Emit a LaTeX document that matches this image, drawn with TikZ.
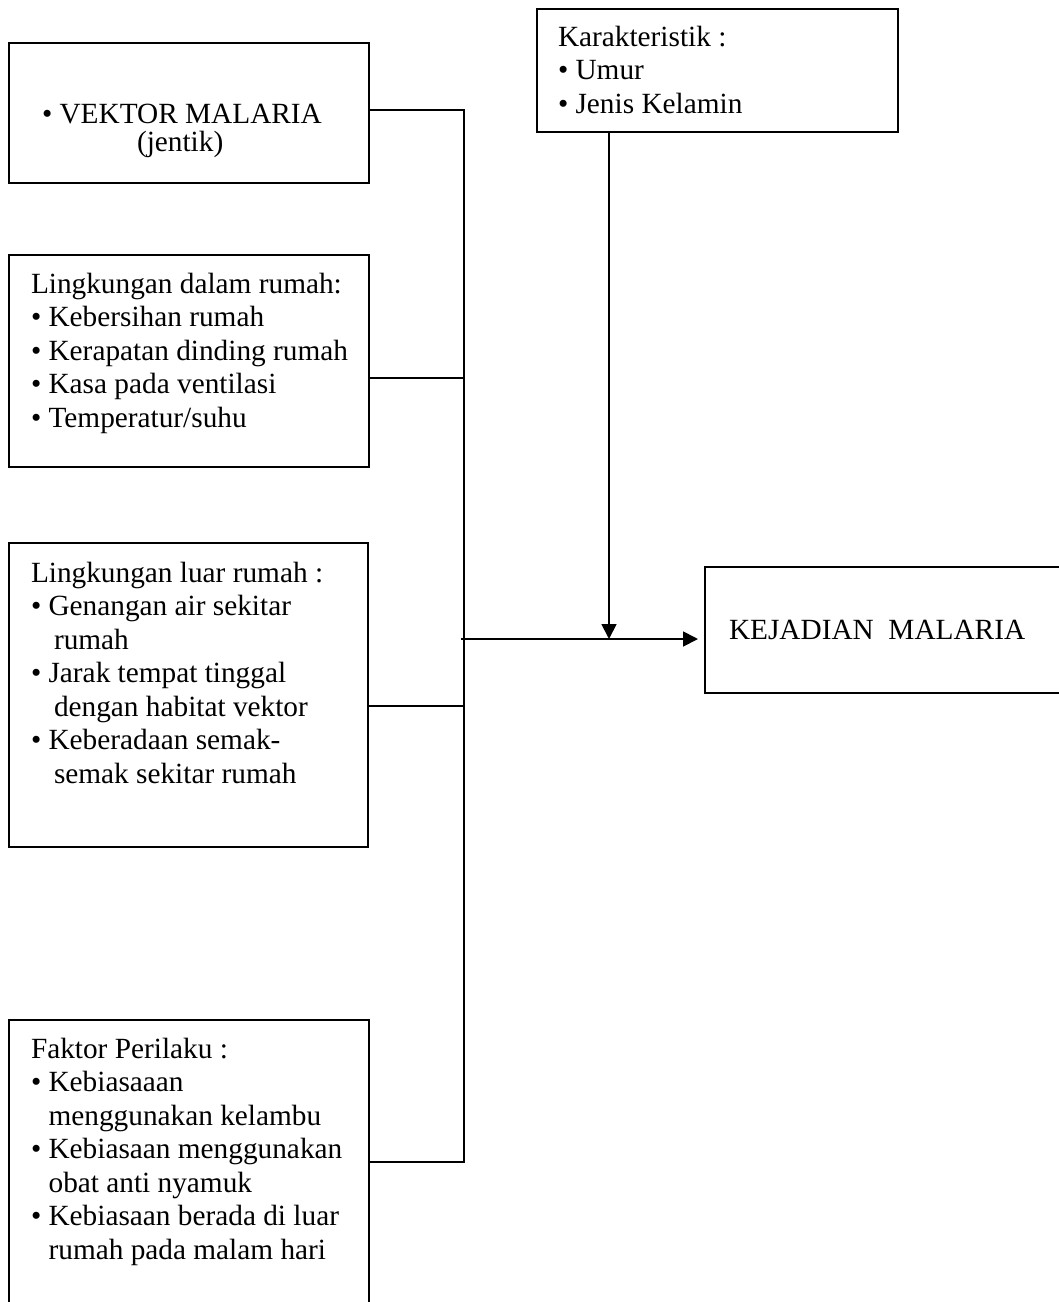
\documentclass[tikz,border=0pt]{standalone}
\usepackage{fontspec}
\setmainfont{Liberation Serif}
\usetikzlibrary{arrows.meta}
\begin{document}
\begin{tikzpicture}[x=1pt,y=-1pt,
  box/.style={draw,line width=1.8pt,rectangle,inner sep=0pt,outer sep=0pt,anchor=north west},
  txt/.style={inner sep=0pt,outer sep=0pt,anchor=base west,font=\fontsize{29.3}{33.5}\selectfont},
  ln/.style={line width=1.8pt},
  arr/.style={line width=1.8pt,-{Triangle[length=15pt,width=15pt]}}]
\useasboundingbox (0,0) rectangle (1059,1302);
% boxes
\node[box,minimum width=360pt,minimum height=140pt] (vk) at (9,43) {};
\node[box,minimum width=360pt,minimum height=212pt] (ld) at (9,255) {};
\node[box,minimum width=359pt,minimum height=304pt] (lr) at (9,543) {};
\node[box,minimum width=360pt,minimum height=320pt] (fp) at (9,1020) {};
\node[box,minimum width=361pt,minimum height=123pt] (kr) at (537,9) {};
\node[box,minimum width=360pt,minimum height=126pt] (kj) at (705,567) {};
% texts
\node[txt] (tvk) at (42,123) {\parbox[t]{320pt}{• VEKTOR MALARIA\\[-5.5pt]\hspace*{95pt}(jentik)}};
\node[txt] (tld) at (31,293) {\parbox[t]{330pt}{Lingkungan dalam rumah:\\• Kebersihan rumah\\• Kerapatan dinding rumah\\• Kasa pada ventilasi\\• Temperatur/suhu}};
\node[txt] (tlr) at (31,582) {\parbox[t]{330pt}{Lingkungan luar rumah :\\• Genangan air sekitar\\\hspace*{23pt}rumah\\• Jarak tempat tinggal\\\hspace*{23pt}dengan habitat vektor\\• Keberadaan semak-\\\hspace*{23pt}semak sekitar rumah}};
\node[txt] (tfp) at (31,1058) {\parbox[t]{330pt}{Faktor Perilaku :\\• Kebiasaaan\\\hspace*{17.6pt}menggunakan kelambu\\• Kebiasaan menggunakan\\\hspace*{17.6pt}obat anti nyamuk\\• Kebiasaan berada di luar\\\hspace*{17.6pt}rumah pada malam hari}};
\node[txt] (tkr) at (558,46) {\parbox[t]{330pt}{Karakteristik :\\• Umur\\• Jenis Kelamin}};
\node[txt] (tkj) at (729,639) {KEJADIAN\ \ MALARIA};
% junction coordinates
\coordinate (jtop) at (464,110);
\coordinate (j2) at (464,378);
\coordinate (j3) at (464,706);
\coordinate (jbot) at (464,1162);
\coordinate (a0) at (461,639);
\coordinate (d1) at (609,639);
% connectors
\draw[ln] (vk.east |- jtop) -- (jtop) -- (jbot) -- (fp.east |- jbot);
\draw[ln] (ld.east |- j2) -- (j2);
\draw[ln] (lr.east |- j3) -- (j3);
\draw[arr,shorten >=7pt] (a0) -- (kj.west |- a0);
\draw[arr] (kr.south -| d1) -- (d1);
\end{tikzpicture}
\end{document}
